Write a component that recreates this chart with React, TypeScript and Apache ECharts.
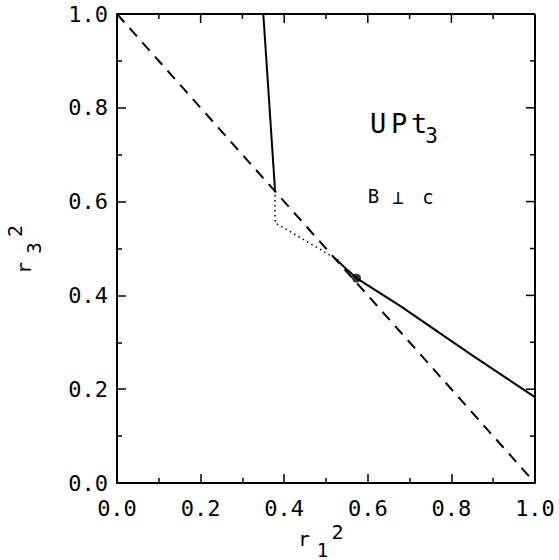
import React, { useEffect, useRef } from "react";
import * as echarts from "echarts";

const xTicks = [0, 0.2, 0.4, 0.6, 0.8, 1.0];
const majorInner = [0.2, 0.4, 0.6, 0.8];
const minorInner = [0.1, 0.3, 0.5, 0.7, 0.9];
const diagonal: [number, number][] = [[0, 1], [1, 0]];
const upperSolid: [number, number][] = [[0.35, 1.0], [0.378, 0.625]];
const dotted: [number, number][] = [[0.378, 0.625], [0.378, 0.555], [0.53, 0.475]];
const lowerSolid: [number, number][] = [[0.52, 0.48], [0.55, 0.455], [0.573, 0.437], [0.68, 0.376], [0.85, 0.272], [1.0, 0.183]];
const point: [number, number][] = [[0.573, 0.437]];

const FONT = "DejaVu Sans Mono";

function ch(text: string, x: number, y: number, size: number, rot = 0) {
  return {
    type: "text",
    x,
    y,
    rotation: rot,
    style: { text, font: `${size}px ${FONT}`, fill: "#000", align: "center", verticalAlign: "middle" },
  };
}

function axis(position: string, margin: number) {
  return {
    type: "value",
    position,
    min: 0,
    max: 1,
    interval: 0.2,
    axisLine: { show: true, onZero: false, lineStyle: { color: "#000", width: 2 } },
    axisTick: { show: true, inside: true, length: 9, lineStyle: { color: "#000", width: 1.5 } },
    minorTick: { show: true, splitNumber: 2, length: 5, lineStyle: { color: "#000", width: 1.5 } },
    splitLine: { show: false },
    axisLabel: {
      margin,
      color: "#000",
      fontFamily: FONT,
      fontSize: 22,
      formatter: (v: number) => (xTicks.some((t) => Math.abs(t - v) < 1e-9) ? v.toFixed(1) : ""),
    },
  };
}

export default function App() {
  const ref = useRef<HTMLDivElement>(null);
  useEffect(() => {
    const chart = echarts.init(ref.current!, null, { renderer: "svg" });
    const P = Math.PI / 2;
    const texts = [
      ch("U", 378, 123, 27),
      ch("P", 399, 123, 27),
      ch("t", 419, 123, 27),
      ch("3", 431.5, 136, 21),
      ch("B", 373.5, 196, 19),
      ch("\u22a5", 398, 197, 19),
      ch("c", 428, 197, 19),
      ch("r", 304, 539, 20),
      ch("1", 322.5, 550, 19),
      ch("2", 337.5, 532, 20),
      ch("r", 24, 268, 20, P),
      ch("3", 34, 248, 19, P),
      ch("2", 15, 231, 20, P),
    ];
    chart.setOption({
      animation: false,
      grid: { left: 117, top: 14, right: 24, bottom: 77 },
      xAxis: axis("bottom", 14),
      yAxis: axis("left", 9),
      series: [
        {
          type: "line",
          data: diagonal,
          symbol: "none",
          lineStyle: { color: "#000", width: 2, type: [11, 8] },
        },
        {
          type: "line",
          data: upperSolid,
          symbol: "none",
          lineStyle: { color: "#000", width: 2 },
        },
        {
          type: "line",
          data: dotted,
          symbol: "none",
          lineStyle: { color: "#000", width: 1.5, type: [1.5, 3.5] },
        },
        {
          type: "line",
          data: lowerSolid,
          symbol: "none",
          lineStyle: { color: "#000", width: 2 },
        },
        {
          type: "scatter",
          data: point,
          symbol: "circle",
          symbolSize: 9,
          itemStyle: { color: "#000" },
        },
      ],
    });

    const extra: any[] = [];
    try {
      const tl = chart.convertToPixel({ gridIndex: 0 }, [0, 1]) as number[];
      const br = chart.convertToPixel({ gridIndex: 0 }, [1, 0]) as number[];
      const stroke = { stroke: "#000", lineWidth: 2 };
      extra.push({ type: "line", shape: { x1: tl[0], y1: tl[1], x2: br[0], y2: tl[1] }, style: stroke, z: 10 });
      extra.push({ type: "line", shape: { x1: br[0], y1: tl[1], x2: br[0], y2: br[1] }, style: stroke, z: 10 });
      const tick = { stroke: "#000", lineWidth: 1.5 };
      const addTicks = (vals: number[], len: number) => {
        vals.forEach((v) => {
          const px = chart.convertToPixel({ gridIndex: 0 }, [v, 1]) as number[];
          extra.push({ type: "line", shape: { x1: px[0], y1: tl[1], x2: px[0], y2: tl[1] + len }, style: tick, z: 10 });
          const py = chart.convertToPixel({ gridIndex: 0 }, [1, v]) as number[];
          extra.push({ type: "line", shape: { x1: br[0], y1: py[1], x2: br[0] - len, y2: py[1] }, style: tick, z: 10 });
        });
      };
      addTicks(majorInner, 9);
      addTicks(minorInner, 5);
    } catch (e) {
      // ignore
    }
    chart.setOption({ graphic: [...texts, ...extra] });
    return () => chart.dispose();
  }, []);
  return <div ref={ref} style={{ width: 559, height: 560, position: "absolute", left: 0, top: 0 }} />;
}
